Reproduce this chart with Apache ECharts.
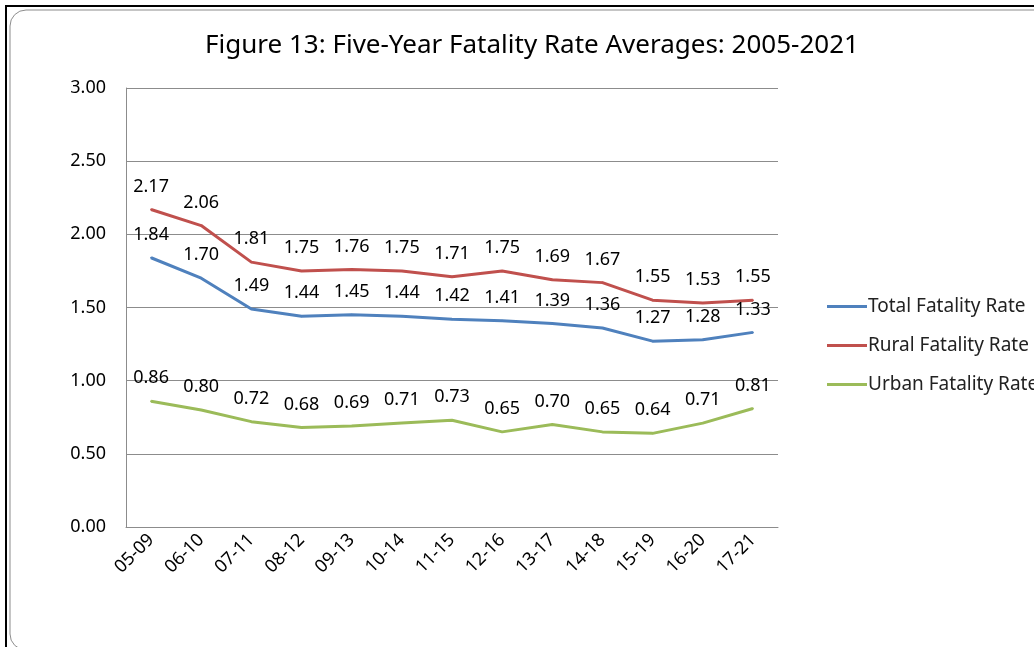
<!DOCTYPE html>
<html>
<head>
<meta charset="utf-8">
<script src="https://cdn.jsdelivr.net/npm/echarts@6/dist/echarts.min.js"></script>
<style>
  html, body { margin: 0; padding: 0; background: #fff; }
  #chart { width: 1034px; height: 647px; }
</style>
</head>
<body>
<div id="chart"></div>
<script>
// five-year windows
const periods = ['05-09', '06-10', '07-11', '08-12', '09-13', '10-14', '11-15', '12-16', '13-17', '14-18', '15-19', '16-20', '17-21']
const totalRate = [1.84, 1.70, 1.49, 1.44, 1.45, 1.44, 1.42, 1.41, 1.39, 1.36, 1.27, 1.28, 1.33]
const ruralRate = [2.17, 2.06, 1.81, 1.75, 1.76, 1.75, 1.71, 1.75, 1.69, 1.67, 1.55, 1.53, 1.55]
const urbanRate = [0.86, 0.80, 0.72, 0.68, 0.69, 0.71, 0.73, 0.65, 0.70, 0.65, 0.64, 0.71, 0.81]

const font = 'Noto Sans'

function lineSeries (name, data, color) {
  return {
    name: name,
    type: 'line',
    data: data,
    symbol: 'circle',
    symbolSize: 2,
    showAllSymbol: true,
    lineStyle: { color: color, width: 3 },
    itemStyle: { color: color },
    label: {
      show: true,
      position: 'top',
      distance: 13,
      color: '#000',
      fontFamily: font,
      fontSize: 18,
      formatter: p => p.value.toFixed(2)
    }
  }
}

let myChart = echarts.init(document.getElementById('chart'))
myChart.setOption({
  animation: false,
  graphic: [
    {
      type: 'rect',
      shape: { x: 6, y: 6, width: 1040, height: 650 },
      style: { fill: 'none', stroke: '#000', lineWidth: 2 }
    },
    {
      type: 'rect',
      shape: { x: 10, y: 10, width: 1040, height: 640, r: 16 },
      style: { fill: 'none', stroke: '#8c8c8c', lineWidth: 1 }
    }
  ],
  title: {
    text: 'Figure 13: Five-Year Fatality Rate Averages: 2005-2021',
    left: 527,
    top: 28,
    textAlign: 'center',
    textStyle: { fontFamily: font, fontSize: 26, fontWeight: 'normal', color: '#000' }
  },
  legend: {
    orient: 'vertical',
    left: 822,
    top: 292,
    itemGap: 20,
    itemWidth: 40,
    itemHeight: 3,
    icon: 'rect',
    textStyle: { fontFamily: font, fontSize: 19, color: '#222', padding: [0, 0, 0, -4] },
    data: ['Total Fatality Rate', 'Rural Fatality Rate', 'Urban Fatality Rate']
  },
  grid: { left: 126, right: 256, top: 88, bottom: 120, containLabel: false },
  xAxis: {
    type: 'category',
    data: periods,
    boundaryGap: true,
    axisLine: { lineStyle: { color: '#8c8c8c' } },
    axisTick: { show: false },
    axisLabel: { rotate: 45, color: '#000', fontFamily: font, fontSize: 18, margin: 10, interval: 0 }
  },
  yAxis: {
    type: 'value',
    min: 0,
    max: 3,
    interval: 0.5,
    axisLine: { show: true, lineStyle: { color: '#8c8c8c' } },
    axisTick: { show: false },
    splitLine: { lineStyle: { color: '#8c8c8c' } },
    axisLabel: { color: '#000', fontFamily: font, fontSize: 18, margin: 20, formatter: v => v.toFixed(2) }
  },
  series: [
    lineSeries('Total Fatality Rate', totalRate, '#4f81bd'),
    lineSeries('Rural Fatality Rate', ruralRate, '#c0504d'),
    lineSeries('Urban Fatality Rate', urbanRate, '#9bbb59')
  ]
})
</script>
</body>
</html>
